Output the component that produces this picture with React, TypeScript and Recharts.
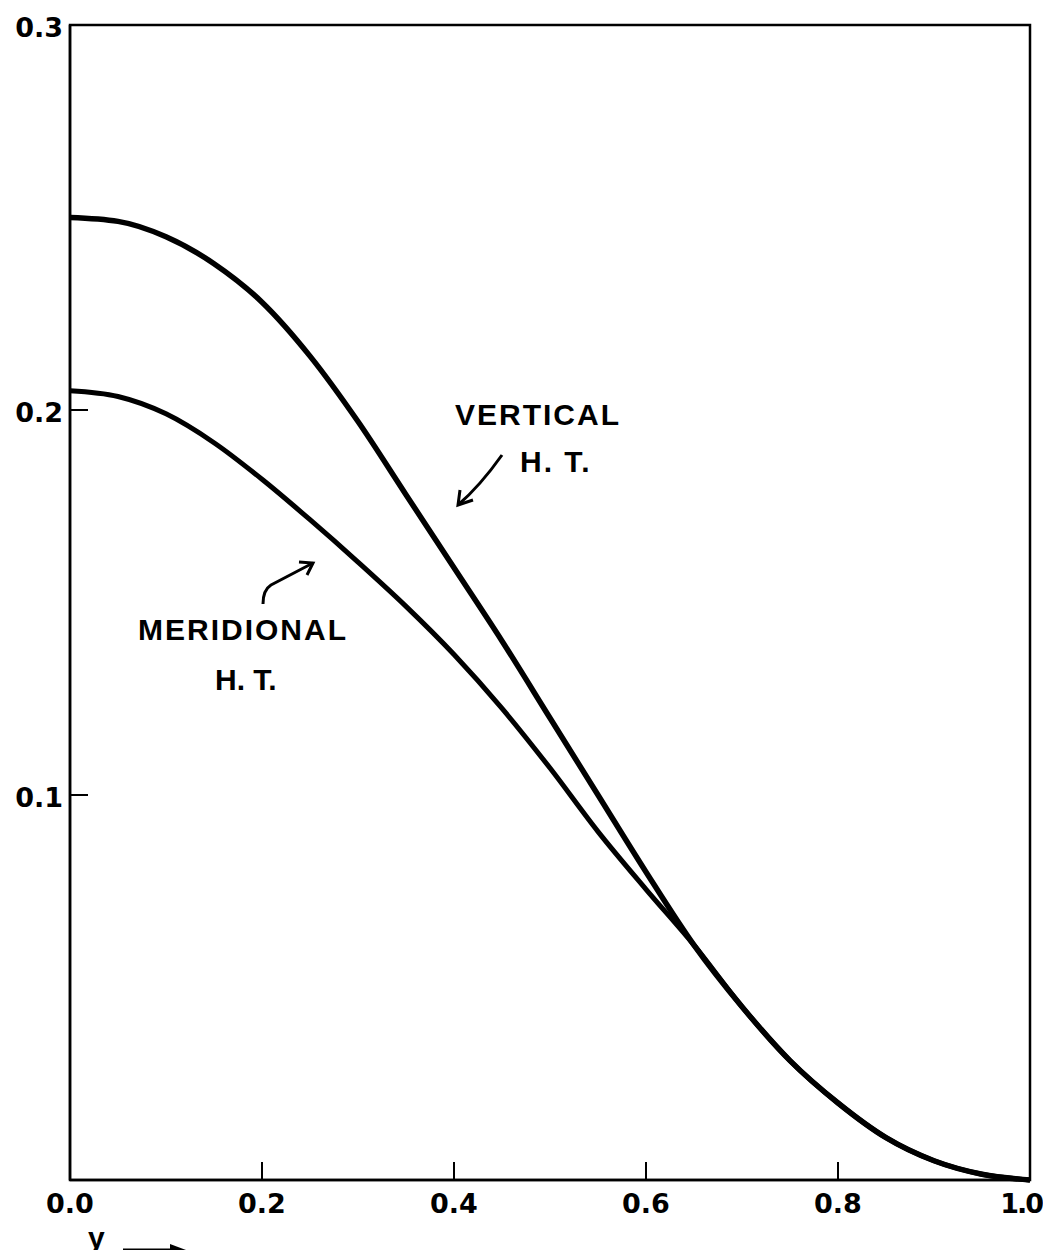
import React from "react";
import { LineChart, Line, XAxis, YAxis, ReferenceArea } from "recharts";

// y positions along the section
const yValues = [
  0, 0.05, 0.1, 0.15, 0.2, 0.25, 0.3, 0.35, 0.4, 0.45, 0.5, 0.55, 0.6, 0.65,
  0.7, 0.75, 0.8, 0.85, 0.9, 0.95, 1.0,
];
const verticalHT = [
  0.25, 0.249, 0.245, 0.238, 0.228, 0.214, 0.197, 0.178, 0.159, 0.14, 0.12,
  0.1, 0.08, 0.061, 0.045, 0.031, 0.02, 0.011, 0.005, 0.0015, 0.0,
];
const meridionalHT = [
  0.205, 0.2035, 0.199, 0.1915, 0.182, 0.1715, 0.1605, 0.149, 0.1365, 0.1225,
  0.107, 0.0905, 0.0755, 0.061, 0.045, 0.031, 0.02, 0.011, 0.005, 0.0015, 0.0,
];
const xTicks = [0, 0.2, 0.4, 0.6, 0.8, 1.0];
const xTickLabels = ["0.0", "0.2", "0.4", "0.6", "0.8", "1.0"];
const yTicks = [0.1, 0.2, 0.3];
const yTickLabels = ["0.1", "0.2", "0.3"];

const data = yValues.map((y, i) => ({
  y,
  vertical: verticalHT[i],
  meridional: meridionalHT[i],
}));

const TICK_FONT = "'DejaVu Sans', sans-serif";
const NOTE_FONT = "'Liberation Sans', Arial, sans-serif";

const XTick = (props: any) => {
  const { x, y, payload } = props;
  const inner = payload.value > 0 && payload.value < 1;
  const last = payload.value === 1;
  return (
    <g>
      {inner && <line x1={x} x2={x} y1={y} y2={y - 18} stroke="#000" strokeWidth={2} />}
      <text
        x={last ? x + 12 : x}
        y={y + 33}
        textAnchor={last ? "end" : "middle"}
        letterSpacing={last ? -2 : 0}
        fontFamily={TICK_FONT}
        fontWeight="bold"
        fontSize={27}
        fill="#000"
      >
        {xTickLabels[xTicks.indexOf(payload.value)]}
      </text>
    </g>
  );
};

const YTick = (props: any) => {
  const { x, y, payload } = props;
  const inner = payload.value < 0.3;
  return (
    <g>
      {inner && <line x1={x} x2={x + 18} y1={y} y2={y} stroke="#000" strokeWidth={2} />}
      <text
        x={x - 7}
        y={y + 12}
        textAnchor="end"
        fontFamily={TICK_FONT}
        fontWeight="bold"
        fontSize={27}
        fill="#000"
      >
        {yTickLabels[yTicks.indexOf(payload.value)]}
      </text>
    </g>
  );
};

const Note = (props: { x: number; y: number; spacing?: number; children: string }) => (
  <text
    x={props.x}
    y={props.y}
    fontFamily={NOTE_FONT}
    fontWeight="bold"
    fontSize={30}
    letterSpacing={props.spacing ?? 2}
    fill="#000"
  >
    {props.children}
  </text>
);

const App = () => {
  return (
    <div style={{ position: "relative", width: 1035, height: 1250, marginBottom: -8 }}>
      <LineChart
        width={1035}
        height={1242}
        data={data}
        margin={{ top: 17, right: 13, bottom: 10, left: 0 }}
      >
        <XAxis
          dataKey="y"
          type="number"
          domain={[0, 1]}
          ticks={xTicks}
          tickSize={0}
          tickMargin={0}
          tick={<XTick />}
          height={60}
          axisLine={{ stroke: "#000", strokeWidth: 2.5 }}
        />
        <YAxis
          type="number"
          domain={[0, 0.3]}
          ticks={yTicks}
          tickSize={0}
          tickMargin={0}
          tick={<YTick />}
          width={62}
          axisLine={{ stroke: "#000", strokeWidth: 2.5 }}
        />
        <ReferenceArea
          x1={0}
          x2={1}
          y1={0}
          y2={0.3}
          fill="none"
          stroke="#000"
          strokeWidth={2.5}
        />
        <Line
          type="monotone"
          dataKey="vertical"
          stroke="#000"
          strokeWidth={5.5}
          dot={false}
          isAnimationActive={false}
        />
        <Line
          type="monotone"
          dataKey="meridional"
          stroke="#000"
          strokeWidth={5}
          dot={false}
          isAnimationActive={false}
        />
      </LineChart>

      <svg
        width={1035}
        height={1250}
        style={{ position: "absolute", left: 0, top: 0, pointerEvents: "none" }}
      >
        <Note x={447} y={417}>VERTICAL</Note>
        <Note x={512} y={464}>H. T.</Note>
        <Note x={130} y={632}>MERIDIONAL</Note>
        <Note x={207} y={682} spacing={0}>H. T.</Note>
        <Note x={80} y={1240} spacing={0}>y</Note>

        {/* vertical H.T. arrow */}
        <path d="M494 447 Q472 478 450 497" fill="none" stroke="#000" strokeWidth={3} />
        <path d="M452 482 L450 497 L465 492" fill="none" stroke="#000" strokeWidth={3} />
        {/* meridional H.T. arrow */}
        <path d="M255 596 Q255 582 263 577 L305 555" fill="none" stroke="#000" strokeWidth={3} />
        <path d="M291 554 L305 555 L299 567" fill="none" stroke="#000" strokeWidth={3} />
        {/* y arrow */}
        <line x1={115} y1={1242} x2={170} y2={1242} stroke="#000" strokeWidth={3} />
        <path d="M162 1236 L178 1242 L162 1247 Z" fill="#000" />
      </svg>
    </div>
  );
};

export default App;
